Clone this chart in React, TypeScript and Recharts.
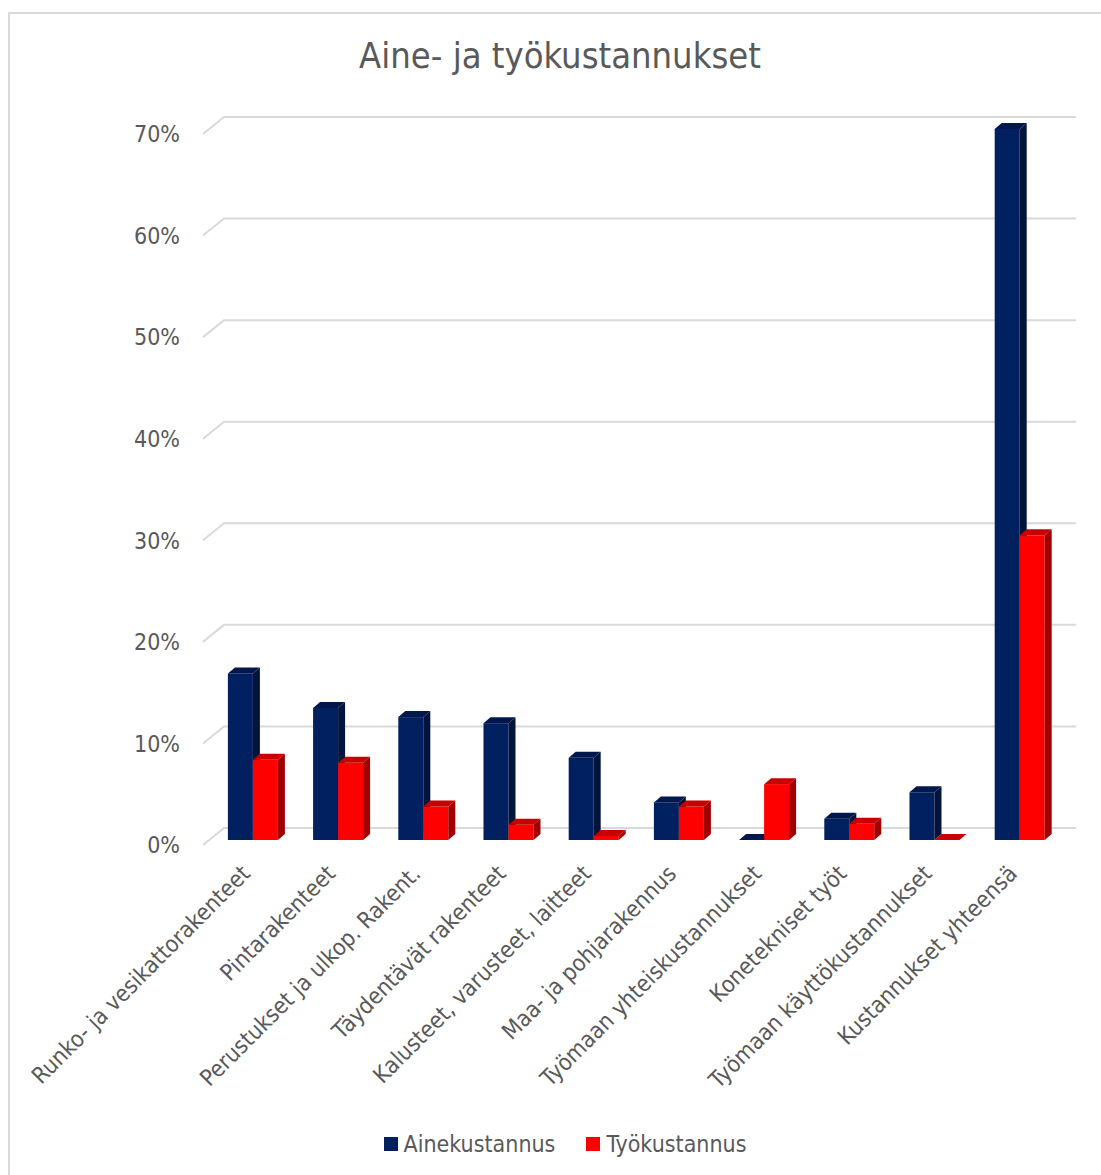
import { BarChart, Bar, XAxis, YAxis, CartesianGrid } from "recharts";

const categories = [
  "Runko- ja vesikattorakenteet",
  "Pintarakenteet",
  "Perustukset ja ulkop. Rakent.",
  "Täydentävät rakenteet",
  "Kalusteet, varusteet, laitteet",
  "Maa- ja pohjarakennus",
  "Työmaan yhteiskustannukset",
  "Konetekniset työt",
  "Työmaan käyttökustannukset",
  "Kustannukset yhteensä",
];
const aineValues = [0.164, 0.13, 0.121, 0.115, 0.081, 0.037, 0, 0.021, 0.047, 0.7];
const tyoValues = [0.079, 0.076, 0.033, 0.015, 0.004, 0.033, 0.055, 0.016, 0, 0.3];
const yTicks = [0, 0.1, 0.2, 0.3, 0.4, 0.5, 0.6, 0.7];

const data = categories.map((name, i) => ({ name, aine: aineValues[i], tyo: tyoValues[i] }));

const FONT = '"DejaVu Sans Condensed", "DejaVu Sans", sans-serif';
const TEXT = "#595959";
const GRID = "#d9d9d9";
// 3D depth: front of bar sits a bit behind the front plane, back wall further back
const DX1 = 7, DY1 = 5, DX2 = 7, DY2 = 6, WALL_DX = 21, WALL_DY = 17;

const makeShape = (front: string, top: string, side: string) => (props: any) => {
  const { x, y, width, height } = props;
  const h = Math.max(height || 0, 0);
  const x0 = x + DX1;
  const y0 = y - DY1;
  const w = width;
  return (
    <g>
      <rect x={x0} y={y0} width={w} height={h} fill={front} />
      <polygon
        points={`${x0},${y0} ${x0 + DX2},${y0 - DY2} ${x0 + w + DX2},${y0 - DY2} ${x0 + w},${y0}`}
        fill={top}
      />
      <polygon
        points={`${x0 + w},${y0} ${x0 + w + DX2},${y0 - DY2} ${x0 + w + DX2},${y0 + h - DY2} ${x0 + w},${y0 + h}`}
        fill={side}
      />
    </g>
  );
};

const gridLine = (props: any) => {
  const { x1, x2, y1 } = props;
  return (
    <path
      key={props.key ?? `g-${y1}`}
      d={`M${x1},${y1} L${x1 + WALL_DX},${y1 - WALL_DY} L${x2 + WALL_DX},${y1 - WALL_DY}`}
      stroke={GRID}
      strokeWidth={2}
      fill="none"
    />
  );
};

const XTick = (props: any) => {
  const { x, y, payload } = props;
  const ax = x + 6;
  const ay = y + 22;
  return (
    <text
      x={ax}
      y={ay}
      transform={`rotate(-45, ${ax}, ${ay})`}
      textAnchor="end"
      fontFamily={FONT}
      fontSize={23}
      fill={TEXT}
    >
      {payload.value}
    </text>
  );
};

const YTick = (props: any) => {
  const { x, y, payload } = props;
  return (
    <text x={x} y={y} dy="0.36em" textAnchor="end" fontFamily={FONT} fontSize={23} fill={TEXT}>
      {`${Math.round(payload.value * 100)}%`}
    </text>
  );
};

const legendItems = [
  { label: "Ainekustannus", color: "#002060" },
  { label: "Työkustannus", color: "#ff0000" },
];

export default function App() {
  return (
    <div style={{ position: "absolute", left: 0, top: 0, width: 1101, height: 1175, background: "#fff", overflow: "hidden" }}>
      <div
        style={{
          position: "absolute",
          left: 8,
          top: 12,
          width: 1110,
          height: 1180,
          borderLeft: `2px solid ${GRID}`,
          borderTop: `2px solid ${GRID}`,
        }}
      />
      <div
        style={{
          position: "absolute",
          left: 0,
          top: 35,
          width: 1120,
          textAlign: "center",
          fontFamily: FONT,
          fontSize: 36,
          color: TEXT,
        }}
      >
        Aine- ja työkustannukset
      </div>
      <div style={{ position: "absolute", left: 0, top: 0 }}>
        <BarChart
          width={1101}
          height={1175}
          data={data}
          margin={{ top: 134, right: 46, bottom: 320, left: 143 }}
          barCategoryGap="21%"
          barGap={0}
        >
          <CartesianGrid vertical={false} horizontal={gridLine} />
          <XAxis dataKey="name" axisLine={false} tickLine={false} interval={0} tick={<XTick />} height={10} />
          <YAxis
            domain={[0, 0.7]}
            ticks={yTicks}
            width={60}
            axisLine={false}
            tickLine={false}
            tickSize={0}
            tickMargin={23}
            tick={<YTick />}
          />
          <Bar dataKey="aine" name="Ainekustannus" fill="#002060" isAnimationActive={false} shape={makeShape("#002060", "#00184d", "#00143c")} />
          <Bar dataKey="tyo" name="Työkustannus" fill="#ff0000" isAnimationActive={false} shape={makeShape("#ff0000", "#c80000", "#a00000")} />
        </BarChart>
      </div>
      <div
        style={{
          position: "absolute",
          left: 0,
          top: 1131,
          width: 1130,
          display: "flex",
          justifyContent: "center",
          gap: 31,
          fontFamily: FONT,
          fontSize: 23,
          color: TEXT,
        }}
      >
        {legendItems.map((it) => (
          <div key={it.label} style={{ display: "flex", alignItems: "center" }}>
            <span style={{ width: 14, height: 14, background: it.color, marginRight: 6, display: "inline-block" }} />
            {it.label}
          </div>
        ))}
      </div>
    </div>
  );
}
